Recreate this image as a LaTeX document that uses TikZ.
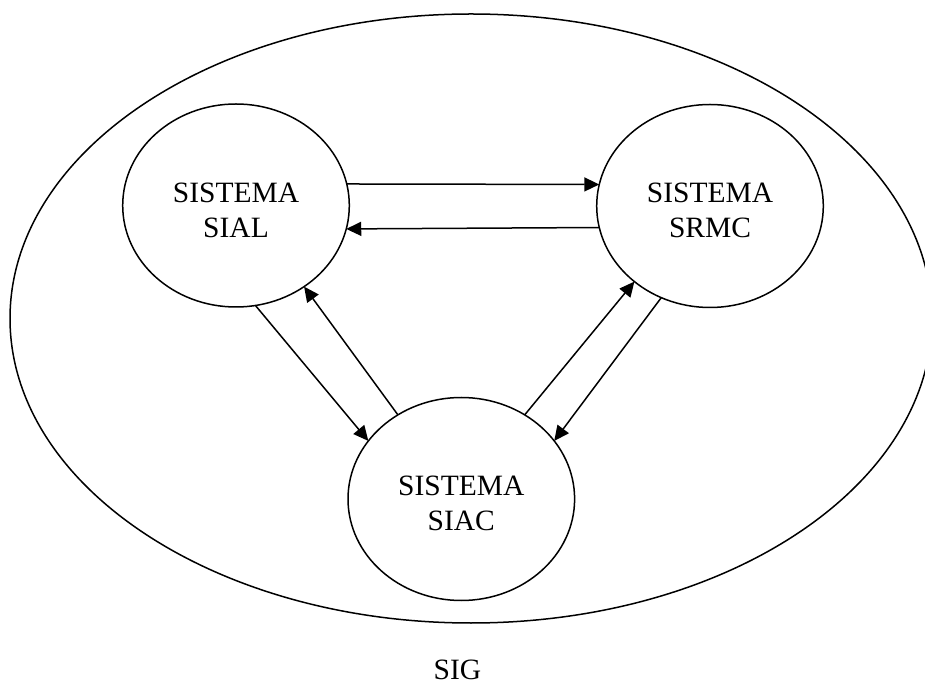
\documentclass[tikz,border=0pt]{standalone}
\usepackage{fontspec}
\setmainfont{Liberation Serif}
\usetikzlibrary{shapes.geometric,arrows.meta}
\begin{document}
\begin{tikzpicture}[x=1pt,y=1pt,
  sysbox/.style={draw, ellipse, line width=1.5pt, minimum width=226.6pt, minimum height=203pt, inner sep=0pt, outer sep=0pt},
  bigbox/.style={draw, ellipse, line width=1.5pt, minimum width=922pt, minimum height=609pt, inner sep=0pt, outer sep=0pt},
  systext/.style={align=center, font=\fontsize{29.5}{35}\selectfont, inner sep=0pt},
  flow/.style={line width=1.5pt, -{Triangle[length=15pt,width=14pt]}}]
\useasboundingbox (0,0) rectangle (925,685);
\clip (0,0) rectangle (925,685);
\node[bigbox] (sigbox) at (471,366.5) {};
\node[sysbox] (sial) at (236,479.5) {};
\node[sysbox] (srmc) at (710,479) {};
\node[sysbox] (siac) at (461.3,186) {};
\node[systext] (sialt) at ([yshift=-4.5pt]sial.center) {SISTEMA\\SIAL};
\node[systext] (srmct) at ([yshift=-4.5pt]srmc.center) {SISTEMA\\SRMC};
\node[systext] (siact) at ([yshift=-4.5pt]siac.center) {SISTEMA\\SIAC};
\node[systext, anchor=base] (sig) at (457.5,6) {SIG};
\draw[flow] (sial.11) -- (srmc.169);
\draw[flow] (srmc.191.6) -- (sial.348);
\draw[flow] (sial.281.9) -- (siac.148.1);
\draw[flow] (siac.127.1) -- (sial.310.2);
\draw[flow] (siac.53) -- (srmc.225.3);
\draw[flow] (srmc.242.9) -- (siac.32.2);
\end{tikzpicture}
\end{document}
